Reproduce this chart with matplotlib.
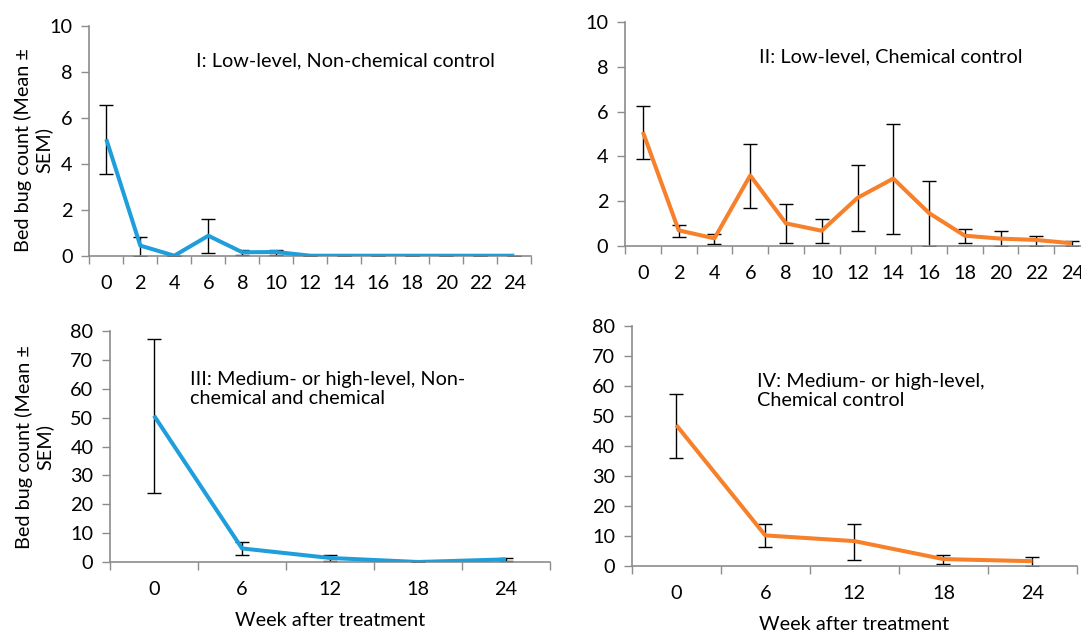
import matplotlib
matplotlib.use("Agg")
import matplotlib.pyplot as plt
from matplotlib.ticker import FixedLocator, NullFormatter, FixedFormatter

plt.rcParams['font.family'] = ['Lato', 'DejaVu Sans']

W, H = 1081, 634

# ─────────────────────────────────────────────
# DATA
# ─────────────────────────────────────────────
weeks_low = ["0", "2", "4", "6", "8", "10", "12", "14", "16", "18", "20", "22", "24"]
weeks_high = ["0", "6", "12", "18", "24"]

p1_mean = [5.07, 0.44, 0.0, 0.87, 0.15, 0.16, 0, 0, 0, 0, 0, 0, 0]
p1_lo = [3.56, 0.0, 0.0, 0.13, 0.03, 0.03, 0, 0, 0, 0, 0, 0, 0]
p1_hi = [6.55, 0.81, 0.0, 1.6, 0.25, 0.26, 0, 0, 0, 0, 0, 0, 0]

p2_mean = [5.09, 0.70, 0.34, 3.15, 1.01, 0.68, 2.15, 3.01, 1.47, 0.46, 0.33, 0.27, 0.12]
p2_lo = [3.89, 0.40, 0.10, 1.68, 0.12, 0.12, 0.68, 0.55, 0.0, 0.15, 0.0, 0.0, 0.0]
p2_hi = [6.26, 0.93, 0.55, 4.55, 1.88, 1.22, 3.60, 5.46, 2.89, 0.74, 0.67, 0.45, 0.22]

p3_mean = [50.7, 4.7, 1.4, 0.0, 0.9]
p3_lo = [23.9, 2.3, 0.5, 0.0, 0.2]
p3_hi = [77.1, 6.9, 2.3, 0.0, 1.5]

p4_mean = [47.0, 10.2, 8.3, 2.3, 1.6]
p4_lo = [36.1, 6.3, 2.1, 0.7, 0.0]
p4_hi = [57.5, 14.0, 14.1, 3.7, 3.1]

BLUE = "#1E9FDB"
ORANGE = "#F7802A"
GRAY = "#8c8c8c"
FS = 14.3

ylabel = "Bed bug count (Mean \u00b1\nSEM)"


def add_axes_px(left, right, top, bottom):
    return fig.add_axes([left / W, 1 - bottom / H, (right - left) / W, (bottom - top) / H])


def draw_panel(ax, labels, mean, lo, hi, color, ymax, ystep):
    n = len(labels)
    x = list(range(n))
    err = [[m - l for m, l in zip(mean, lo)], [h - m for m, h in zip(mean, hi)]]
    ax.errorbar(x, mean, yerr=err, fmt="none", ecolor="black",
                elinewidth=1.0, capsize=5, capthick=1.0, zorder=2)
    ax.plot(x, mean, color=color, lw=2.9, zorder=3, solid_capstyle="butt")
    ax.set_xlim(-0.5, n - 0.5)
    ax.set_ylim(0, ymax)
    ax.set_yticks(range(0, ymax + 1, ystep))
    # category axis: ticks between categories, labels at centres
    ax.xaxis.set_major_locator(FixedLocator([i - 0.5 for i in range(n + 1)]))
    ax.xaxis.set_major_formatter(NullFormatter())
    ax.xaxis.set_minor_locator(FixedLocator(x))
    ax.xaxis.set_minor_formatter(FixedFormatter(labels))
    ax.tick_params(axis="x", which="major", length=6, color=GRAY, width=1)
    ax.tick_params(axis="x", which="minor", length=0, labelsize=FS, pad=14)
    ax.tick_params(axis="y", length=6, color=GRAY, width=1, labelsize=FS, pad=6)
    for s in ["top", "right"]:
        ax.spines[s].set_visible(False)
    for s in ["left", "bottom"]:
        ax.spines[s].set_color(GRAY)
        ax.spines[s].set_linewidth(1.2)
    ax.patch.set_alpha(0)


fig = plt.figure(figsize=(W / 100, H / 100), dpi=100)

ax1 = add_axes_px(89.3, 531.3, 26, 255.7)
draw_panel(ax1, weeks_low, p1_mean, p1_lo, p1_hi, BLUE, 10, 2)

ax2 = add_axes_px(625, 1090, 22, 246)
draw_panel(ax2, weeks_low, p2_mean, p2_lo, p2_hi, ORANGE, 10, 2)

ax3 = add_axes_px(110, 550, 331, 562)
draw_panel(ax3, weeks_high, p3_mean, p3_lo, p3_hi, BLUE, 80, 10)

ax4 = add_axes_px(631.7, 1077, 326, 566)
draw_panel(ax4, weeks_high, p4_mean, p4_lo, p4_hi, ORANGE, 80, 10)


def ftext(px, py, s, **kw):
    fig.text(px / W, 1 - py / H, s, fontsize=FS, **kw)


ftext(196, 61, "I: Low-level, Non-chemical control", va="center")
ftext(759, 57, "II: Low-level, Chemical control", va="center")
ftext(190, 389, "III: Medium- or high-level, Non-\nchemical and chemical",
      va="center", linespacing=1.2)
ftext(757, 391, "IV: Medium- or high-level,\nChemical control",
      va="center", linespacing=1.2)

ftext(33, 150, ylabel, rotation=90, ha="center", va="center", linespacing=1.2)
ftext(34, 447, ylabel, rotation=90, ha="center", va="center", linespacing=1.2)

ftext(330, 620, "Week after treatment", ha="center", va="center")
ftext(854, 625, "Week after treatment", ha="center", va="center")

fig.savefig("out.png", dpi=100)
